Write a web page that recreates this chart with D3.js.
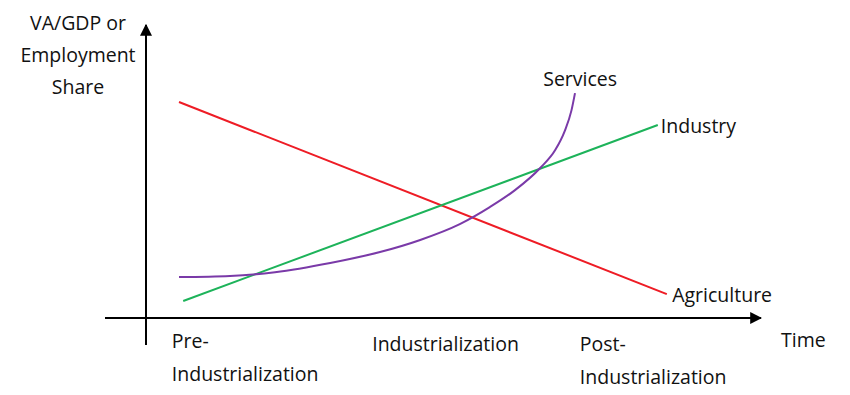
<!DOCTYPE html>
<html>
<head>
<meta charset="utf-8">
<script src="https://cdn.jsdelivr.net/npm/d3@7"></script>
<style>
  body { margin: 0; background: #fff; }
  text { font-family: "Open Sans", sans-serif; font-size: 19.5px; fill: #111; }
</style>
</head>
<body>
<div id="chart"></div>
<script>
let WIDTH = 850
let HEIGHT = 395

// Schematic data: time on x (0-100), share on y (0-100)
let agriculture = [[5.5, 75], [86.8, 8.3]]
let industry = [[6.2, 5.9], [85.3, 67]]
let services = [
    [5.5, 14.2], [14, 14.6], [21.5, 15.9], [30.7, 19.1], [39, 22.9],
    [45.7, 27.1], [52.3, 32.6], [57.3, 38.5], [61.5, 44.4], [65.7, 52.1],
    [68.2, 58.3], [69.8, 65], [70.9, 72], [71.5, 78.1]
]
let seriesLabels = ['Agriculture', 'Industry', 'Services']
let stageLabels = [['Pre-', 'Industrialization'], ['Industrialization'], ['Post-', 'Industrialization']]
let stagePos = [4.3, 37.7, 72.3]
let yTitle = ['VA/GDP or', 'Employment', 'Share']

let svg = d3.select('#chart')
    .append('svg')
    .attr('width', WIDTH)
    .attr('height', HEIGHT)

let x = d3.scaleLinear().domain([0, 100]).range([146, 746])
let y = d3.scaleLinear().domain([0, 100]).range([318, 30])

// arrow marker
svg.append('defs').append('marker')
    .attr('id', 'arrow')
    .attr('viewBox', '0 0 10 10')
    .attr('refX', 9).attr('refY', 5)
    .attr('markerWidth', 6).attr('markerHeight', 6)
    .attr('markerUnits', 'strokeWidth')
    .attr('orient', 'auto')
    .append('path')
    .attr('d', 'M0,0 L10,5 L0,10 z')
    .attr('fill', '#000')

// axes
svg.append('line')
    .attr('x1', x(0)).attr('y1', 345)
    .attr('x2', x(0)).attr('y2', 25)
    .attr('stroke', '#000').attr('stroke-width', 2)
    .attr('marker-end', 'url(#arrow)')
svg.append('line')
    .attr('x1', 105).attr('y1', y(0))
    .attr('x2', 761).attr('y2', y(0))
    .attr('stroke', '#000').attr('stroke-width', 2)
    .attr('marker-end', 'url(#arrow)')

let line = d3.line().x(d => x(d[0])).y(d => y(d[1]))
let curve = d3.line().x(d => x(d[0])).y(d => y(d[1])).curve(d3.curveMonotoneX)

svg.append('path').attr('d', line(agriculture))
    .attr('fill', 'none').attr('stroke', '#ee1c25').attr('stroke-width', 2)
svg.append('path').attr('d', line(industry))
    .attr('fill', 'none').attr('stroke', '#1db35a').attr('stroke-width', 2)
svg.append('path').attr('d', curve(services))
    .attr('fill', 'none').attr('stroke', '#7a3aa8').attr('stroke-width', 2)

// series labels
svg.append('text').attr('x', x(87.7)).attr('y', y(5.7)).text(seriesLabels[0])
svg.append('text').attr('x', x(85.8)).attr('y', y(64.3)).text(seriesLabels[1])
svg.append('text').attr('x', x(66.2)).attr('y', y(80.6)).text(seriesLabels[2])

// y title
yTitle.forEach((t, i) => {
    svg.append('text').attr('x', 78).attr('y', 30 + i * 32)
        .attr('text-anchor', 'middle').text(t)
})

// x title
svg.append('text').attr('x', 781).attr('y', 347).text('Time')

// stage labels
stageLabels.forEach((lines, i) => {
    let base = lines.length === 1 ? 351 : 348 + (i === 2 ? 3 : 0)
    lines.forEach((t, j) => {
        svg.append('text').attr('x', x(stagePos[i])).attr('y', base + j * 33).text(t)
    })
})
</script>
</body>
</html>
